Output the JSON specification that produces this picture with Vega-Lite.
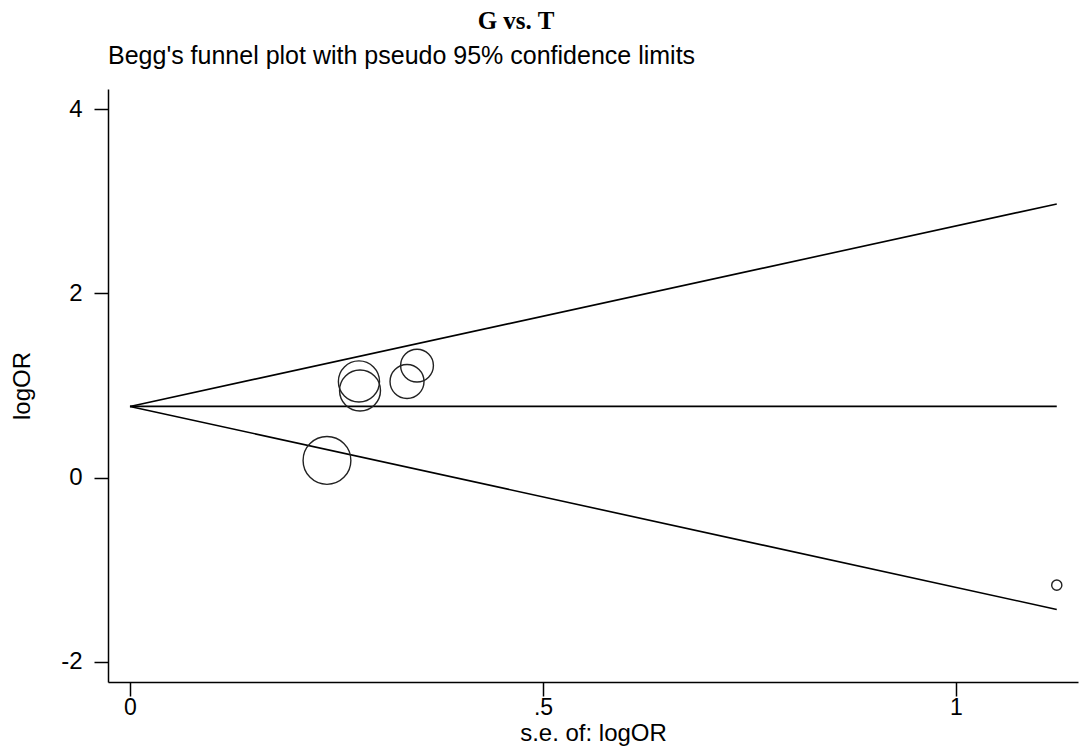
{
  "$schema": "https://vega.github.io/schema/vega-lite/v6.json",
  "background": "white",
  "padding": {"left": 10, "top": 9, "right": 2, "bottom": 4},
  "title": {
    "text": "G vs. T",
    "anchor": "middle",
    "frame": "bounds",
    "font": "Liberation Serif",
    "fontSize": 25,
    "fontWeight": "bold",
    "color": "black",
    "offset": 10,
    "dx": -28
  },
  "config": {
    "view": {"stroke": null},
    "axis": {
      "grid": false,
      "domainColor": "black",
      "domainWidth": 1.5,
      "tickColor": "black",
      "tickWidth": 1.5,
      "tickSize": 14,
      "labelFont": "Liberation Sans",
      "labelFontSize": 24,
      "labelColor": "black",
      "titleFont": "Liberation Sans",
      "titleFontSize": 24,
      "titleFontWeight": "normal",
      "titleColor": "black"
    }
  },
  "vconcat": [
    {
      "width": 970,
      "height": 593,
      "title": {
        "text": "Begg's funnel plot with pseudo 95% confidence limits",
        "anchor": "start",
        "frame": "group",
        "font": "Liberation Sans",
        "fontSize": 25,
        "fontWeight": "normal",
        "color": "black",
        "offset": 20
      },
      "layer": [
        {
          "data": {
            "values": [
              {"se": 0, "logOR": 0.773, "line": "upper"},
              {"se": 1.122, "logOR": 2.97, "line": "upper"},
              {"se": 0, "logOR": 0.773, "line": "center"},
              {"se": 1.122, "logOR": 0.773, "line": "center"},
              {"se": 0, "logOR": 0.773, "line": "lower"},
              {"se": 1.122, "logOR": -1.43, "line": "lower"}
            ]
          },
          "mark": {"type": "line", "color": "black", "strokeWidth": 1.6},
          "encoding": {
            "x": {
              "field": "se",
              "type": "quantitative",
              "scale": {"domain": [-0.0266, 1.1477], "nice": false, "zero": false},
              "axis": {
                "title": "s.e. of: logOR",
                "values": [0, 0.5, 1],
                "labelExpr": "datum.value == 0.5 ? '.5' : toString(datum.value)",
                "labelFontSize": 23,
                "labelPadding": 0,
                "titlePadding": 2
              }
            },
            "y": {
              "field": "logOR",
              "type": "quantitative",
              "scale": {"domain": [-2.217, 4.217], "nice": false, "zero": false},
              "axis": {
                "title": "logOR",
                "values": [-2, 0, 2, 4],
                "labelExpr": "toString(datum.value)",
                "labelAngle": 0,
                "labelPadding": 12,
                "titleX": -86,
                "titleBaseline": "middle"
              }
            },
            "detail": {"field": "line", "type": "nominal"}
          }
        },
        {
          "data": {
            "values": [
              {"se": 0.2385, "logOR": 0.187, "weight": 17.58},
              {"se": 0.2772, "logOR": 1.044, "weight": 13.01},
              {"se": 0.2785, "logOR": 0.946, "weight": 12.89},
              {"se": 0.3354, "logOR": 1.043, "weight": 8.89},
              {"se": 0.3475, "logOR": 1.216, "weight": 8.28},
              {"se": 1.122, "logOR": -1.166, "weight": 0.794}
            ]
          },
          "mark": {"type": "point", "shape": "circle", "filled": false, "stroke": "#222222", "strokeWidth": 1.4, "opacity": 1},
          "encoding": {
            "x": {"field": "se", "type": "quantitative"},
            "y": {"field": "logOR", "type": "quantitative"},
            "size": {
              "field": "weight",
              "type": "quantitative",
              "scale": {"domain": [0, 20], "range": [0, 2600]},
              "legend": null
            }
          }
        }
      ]
    }
  ]
}
